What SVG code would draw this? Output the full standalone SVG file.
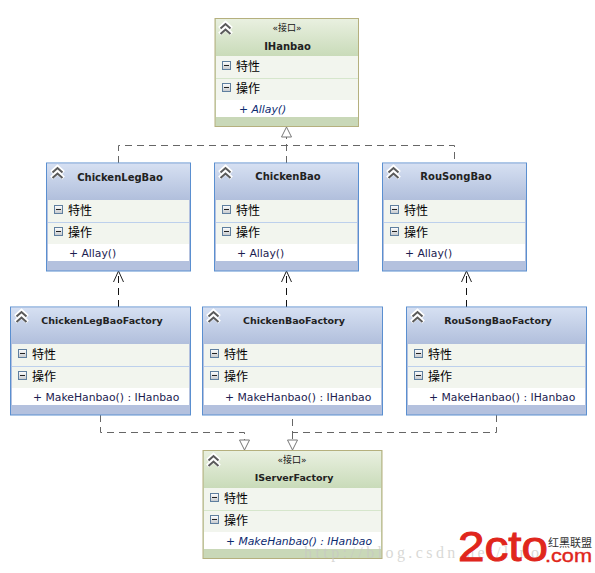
<svg xmlns="http://www.w3.org/2000/svg" xmlns:xlink="http://www.w3.org/1999/xlink" width="595" height="573" viewBox="0 0 595 573">
<style>
text{font-family:"Liberation Sans","Noto Sans CJK SC",sans-serif;fill:#111}
.t{font-family:"DejaVu Sans",sans-serif;font-weight:700;font-size:10px;text-anchor:middle;fill:#222}
.tf{font-size:9.500px}
.s{font-family:"DejaVu Sans","Noto Sans CJK SC",sans-serif;font-size:9px;text-anchor:middle}
.c{font-family:"Noto Sans CJK SC",sans-serif;font-size:12px;fill:#000}
.m{font-family:"DejaVu Sans",sans-serif;font-size:10.800px;fill:#1c1c50}
.i{font-style:italic;fill:#0c2a70}
.bb{fill:#b4c1de;stroke:#5a8fd0;stroke-width:1}
.gb{fill:#c9d8b8;stroke:#b5b07e;stroke-width:1}
.row{fill:#f2f5ee}
.w{fill:#fff}
.sb{stroke:#bdd0ec;stroke-width:1}
.sg{stroke:#d6e6cc;stroke-width:1}
.d{fill:none;stroke:#666;stroke-width:1;stroke-dasharray:7 5}
.dk{fill:none;stroke:#111;stroke-width:1;stroke-dasharray:7 5}
.tri{fill:#fff;stroke:#777;stroke-width:1}
.op{fill:none;stroke:#222;stroke-width:1}
</style>
<defs>
<linearGradient id="gB" x1="0" y1="0" x2="0" y2="1"><stop offset="0" stop-color="#d6e0f2"/><stop offset="1" stop-color="#b1bfdc"/></linearGradient>
<linearGradient id="gG" x1="0" y1="0" x2="0" y2="1"><stop offset="0" stop-color="#e9f0e0"/><stop offset="1" stop-color="#c9dbb9"/></linearGradient>
<linearGradient id="gT" x1="0" y1="0" x2="0" y2="1"><stop offset="0" stop-color="#fff"/><stop offset="1" stop-color="#c4c8cc"/></linearGradient>
<g id="chev"><path d="M0.500 6.500 L6.500 1 L12.500 6.500 M0.500 12 L6.500 6.500 L12.500 12" fill="none" stroke="#fff" stroke-width="4"/><path d="M1.500 6.500 L6.500 2 L11.500 6.500 M1.500 12 L6.500 7.500 L11.500 12" fill="none" stroke="#5a5a5a" stroke-width="2"/></g>
<g id="tog"><rect x="0.500" y="0.500" width="8" height="8" fill="url(#gT)" stroke="#5f7f9f"/><path d="M2 4.500H7" stroke="#222"/></g>
</defs>

<g id="connectors">
<path class="d" d="M286.500 163V137M118.500 163V145.500H454.500V163"/>
<path class="tri" d="M286.500 127L281.500 137H291.500Z"/>
<path class="dk" d="M118.500 307V272"/><path class="op" d="M113.500 282L118.500 271L123.500 282"/>
<path class="dk" d="M286.500 307V272"/><path class="op" d="M281.500 282L286.500 271L291.500 282"/>
<path class="dk" d="M466.500 307V272"/><path class="op" d="M461.500 282L466.500 271L471.500 282"/>
<path class="d" d="M100.500 415V432.500H244.500V440"/>
<path class="d" d="M496.500 415V432.500H292.500V415"/>
<path class="d" d="M292.500 432V440"/>
<path class="tri" d="M239.500 440H249.500L244.500 450Z"/>
<path class="tri" d="M287.500 440H297.500L292.500 450Z"/>
</g>

<g id="IHanbao">
<rect class="gb" x="215" y="18.500" width="143.500" height="108"/>
<rect x="216" y="19" width="142" height="37" fill="url(#gG)"/>
<rect class="row" x="216" y="56" width="142" height="44"/>
<path class="sg" d="M216 78.500H358"/>
<rect class="w" x="216" y="100" width="142" height="17"/>
<use xlink:href="#chev" x="219" y="22"/>
<text class="s" x="287" y="31">«接口»</text>
<text class="t" x="287.500" y="50">IHanbao</text>
<use xlink:href="#tog" x="222" y="61"/><text class="c" x="236" y="71">特性</text>
<use xlink:href="#tog" x="222" y="83"/><text class="c" x="236" y="93">操作</text>
<text class="m i" x="239" y="113">+ Allay()</text>
</g>

<g id="ChickenLegBao">
<rect class="bb" x="46.500" y="163" width="144" height="108"/>
<rect x="47" y="163.500" width="143" height="36.500" fill="url(#gB)"/>
<rect class="row" x="48" y="200" width="141" height="44"/>
<path class="sb" d="M48 222.500H189"/>
<rect class="w" x="48" y="244" width="141" height="17"/>
<use xlink:href="#chev" x="51" y="166"/>
<text class="t" x="120" y="181">ChickenLegBao</text>
<use xlink:href="#tog" x="54" y="205"/><text class="c" x="68" y="215">特性</text>
<use xlink:href="#tog" x="54" y="227"/><text class="c" x="68" y="237">操作</text>
<text class="m" x="69" y="257">+ Allay()</text>
</g>

<g id="ChickenBao">
<rect class="bb" x="214.500" y="163" width="144" height="108"/>
<rect x="215" y="163.500" width="143" height="36.500" fill="url(#gB)"/>
<rect class="row" x="216" y="200" width="141" height="44"/>
<path class="sb" d="M216 222.500H357"/>
<rect class="w" x="216" y="244" width="141" height="17"/>
<use xlink:href="#chev" x="219" y="166"/>
<text class="t" x="288" y="180">ChickenBao</text>
<use xlink:href="#tog" x="222" y="205"/><text class="c" x="236" y="215">特性</text>
<use xlink:href="#tog" x="222" y="227"/><text class="c" x="236" y="237">操作</text>
<text class="m" x="237" y="257">+ Allay()</text>
</g>

<g id="RouSongBao">
<rect class="bb" x="382.500" y="163" width="144" height="108"/>
<rect x="383" y="163.500" width="143" height="36.500" fill="url(#gB)"/>
<rect class="row" x="384" y="200" width="141" height="44"/>
<path class="sb" d="M384 222.500H525"/>
<rect class="w" x="384" y="244" width="141" height="17"/>
<use xlink:href="#chev" x="387" y="166"/>
<text class="t" x="456" y="180">RouSongBao</text>
<use xlink:href="#tog" x="390" y="205"/><text class="c" x="404" y="215">特性</text>
<use xlink:href="#tog" x="390" y="227"/><text class="c" x="404" y="237">操作</text>
<text class="m" x="405" y="257">+ Allay()</text>
</g>

<g id="ChickenLegBaoFactory">
<rect class="bb" x="10.500" y="307" width="180" height="108"/>
<rect x="11" y="307.500" width="179" height="36.500" fill="url(#gB)"/>
<rect class="row" x="12" y="344" width="177" height="44"/>
<path class="sb" d="M12 366.500H189"/>
<rect class="w" x="12" y="388" width="177" height="17"/>
<use xlink:href="#chev" x="15" y="310"/>
<text class="t tf" x="102" y="324">ChickenLegBaoFactory</text>
<use xlink:href="#tog" x="18" y="349"/><text class="c" x="32" y="359">特性</text>
<use xlink:href="#tog" x="18" y="371"/><text class="c" x="32" y="381">操作</text>
<text class="m" x="33" y="401">+ MakeHanbao() : IHanbao</text>
</g>

<g id="ChickenBaoFactory">
<rect class="bb" x="202.500" y="307" width="180" height="108"/>
<rect x="203" y="307.500" width="179" height="36.500" fill="url(#gB)"/>
<rect class="row" x="204" y="344" width="177" height="44"/>
<path class="sb" d="M204 366.500H381"/>
<rect class="w" x="204" y="388" width="177" height="17"/>
<use xlink:href="#chev" x="207" y="310"/>
<text class="t tf" x="294" y="324">ChickenBaoFactory</text>
<use xlink:href="#tog" x="210" y="349"/><text class="c" x="224" y="359">特性</text>
<use xlink:href="#tog" x="210" y="371"/><text class="c" x="224" y="381">操作</text>
<text class="m" x="225" y="401">+ MakeHanbao() : IHanbao</text>
</g>

<g id="RouSongBaoFactory">
<rect class="bb" x="406.500" y="307" width="180" height="108"/>
<rect x="407" y="307.500" width="179" height="36.500" fill="url(#gB)"/>
<rect class="row" x="408" y="344" width="177" height="44"/>
<path class="sb" d="M408 366.500H585"/>
<rect class="w" x="408" y="388" width="177" height="17"/>
<use xlink:href="#chev" x="411" y="310"/>
<text class="t tf" x="498" y="324">RouSongBaoFactory</text>
<use xlink:href="#tog" x="414" y="349"/><text class="c" x="428" y="359">特性</text>
<use xlink:href="#tog" x="414" y="371"/><text class="c" x="428" y="381">操作</text>
<text class="m" x="429" y="401">+ MakeHanbao() : IHanbao</text>
</g>

<g id="IServerFactory">
<rect class="gb" x="203" y="450.500" width="179" height="108"/>
<rect x="204" y="451" width="177" height="37" fill="url(#gG)"/>
<rect class="row" x="204" y="488" width="177" height="44"/>
<path class="sg" d="M204 510.500H381"/>
<rect class="w" x="204" y="532" width="177" height="17"/>
<use xlink:href="#chev" x="207" y="454"/>
<text class="s" x="292" y="463">«接口»</text>
<text class="t tf" x="294" y="481">IServerFactory</text>
<use xlink:href="#tog" x="210" y="493"/><text class="c" x="224" y="503">特性</text>
<use xlink:href="#tog" x="210" y="515"/><text class="c" x="224" y="525">操作</text>
<text class="m i" x="226" y="545" textLength="146">+ MakeHanbao() : IHanbao</text>
</g>

<g id="watermark">
<text x="304" y="558" textLength="235" style="font-family:'Liberation Serif',serif;font-size:16px;fill:#c8c8c4;fill-opacity:.7">http://blog.csdn.net/lino</text>
<text x="458" y="561" textLength="90" lengthAdjust="spacingAndGlyphs" style="font-family:'Liberation Sans',sans-serif;font-size:43px;fill:#e0261c;stroke:#e0261c;stroke-width:1">2cto</text>
<text x="548" y="547" style="font-family:'Noto Sans CJK SC',sans-serif;font-size:11px;fill:#333">红黑联盟</text>
<text x="545" y="561.500" textLength="47" lengthAdjust="spacingAndGlyphs" style="font-family:'Liberation Sans',sans-serif;font-size:19px;fill:#e0261c;stroke:#e0261c;stroke-width:.4">.com</text>
</g>
</svg>
